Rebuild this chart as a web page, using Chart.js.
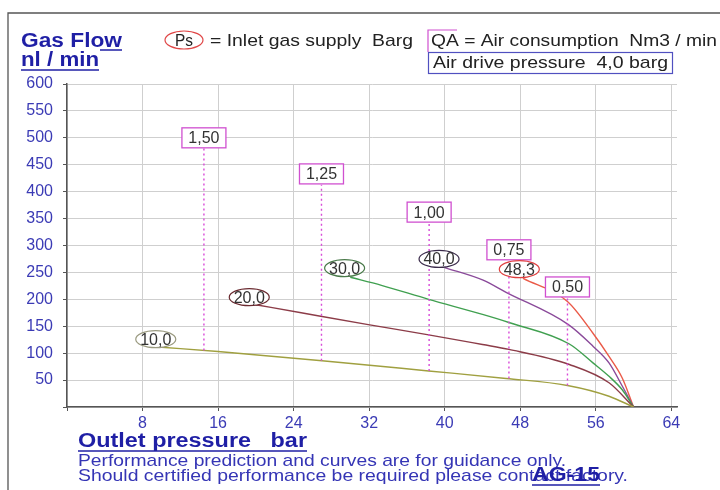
<!DOCTYPE html>
<html>
<head>
<meta charset="utf-8">
<script src="https://cdn.jsdelivr.net/npm/chart.js@4.4.1/dist/chart.umd.min.js"></script>
<style>
body { margin: 0; background: #fff; }
</style>
</head>
<body>
<canvas id="flowChart" width="720" height="490"></canvas>
<script>
// outlet pressure (bar) vs gas flow (nl/min), one curve per inlet pressure Ps
var ps10X = [10, 16, 27, 38.3, 46.5, 53, 57.4, 60];
var ps10Y = [111, 103, 86, 67, 53, 40, 20, 0];
var ps20X = [20, 24.8, 31.9, 38.3, 44, 46.8, 53.2, 57.4, 60];
var ps20Y = [190, 175, 153, 134, 116, 107, 79, 45, 0];
var ps30X = [30, 33.3, 38.3, 44, 46.8, 53.2, 55.7, 57.4, 58.8, 60];
var ps30Y = [241, 226, 200, 172, 157, 117, 82, 57, 32, 0];
var ps40X = [40, 44, 46.5, 53.1, 55.7, 57.4, 58.8, 60];
var ps40Y = [259, 236, 213, 153, 113, 82, 39, 0];
var ps48X = [48.3, 53, 55.7, 57.4, 58.8, 60];
var ps48Y = [239, 196, 137, 94, 54, 0];

// Ps labels (inlet gas supply, barg)
var psLabels = ['10,0', '20,0', '30,0', '40,0', '48,3'];
var psLabelX = [9.4, 19.3, 29.4, 39.4, 47.9];
var psLabelY = [126, 204, 258, 275, 256];

// QA labels (air consumption, Nm3/min) with their dotted markers
var qaLabels = ['1,50', '1,25', '1,00', '0,75', '0,50'];
var qaX = [14.5, 26.95, 38.35, 46.8, 53];
var qaLow = [105, 86, 67, 53, 40];
var qaHigh = [481, 413, 344, 270, 204];
var qaLabelY = [500, 433, 362, 292, 223];

var curveColors = ['#a0a040', '#8c3c48', '#40a050', '#8a4a9a', '#ea5a48'];
var ringColors = ['#9a9a80', '#6a2a30', '#4a7a4a', '#3a2a4a', '#e04040'];

/****************************************************** helpers **************************************/
function toPoints(xs, ys) {
    var pts = [];
    for (var i = 0; i < xs.length; i++) {
        pts.push({ x: xs[i], y: ys[i] });
    }
    return pts;
}

// draw text squeezed/stretched to a given width
function fitText(ctx, txt, x, y, w) {
    var m = ctx.measureText(txt).width;
    ctx.save();
    ctx.translate(x, y);
    ctx.scale(w / m, 1);
    ctx.fillText(txt, 0, 0);
    ctx.restore();
}

function underline(ctx, x1, x2, y, color) {
    ctx.strokeStyle = color;
    ctx.lineWidth = 1.5;
    ctx.beginPath();
    ctx.moveTo(x1, y);
    ctx.lineTo(x2, y);
    ctx.stroke();
}

/****************************************************** plugins **************************************/
var labelsPlugin = {
    id: 'curveLabels',
    afterDatasetsDraw: function (chart) {
        var ctx = chart.ctx;
        var sx = chart.scales.x, sy = chart.scales.y;
        ctx.save();
        ctx.font = '16px "Liberation Sans"';
        ctx.textAlign = 'center';
        ctx.textBaseline = 'middle';
        // QA boxes
        for (var i = 0; i < qaLabels.length; i++) {
            var px = sx.getPixelForValue(qaX[i]);
            var py = sy.getPixelForValue(qaLabelY[i]);
            ctx.fillStyle = '#fff';
            ctx.fillRect(px - 22, py - 10, 44, 20);
            ctx.strokeStyle = '#d050d0';
            ctx.lineWidth = 1.3;
            ctx.strokeRect(px - 22, py - 10, 44, 20);
            ctx.fillStyle = '#333';
            ctx.fillText(qaLabels[i], px, py + 1);
        }
        // Ps ellipses
        for (var j = 0; j < psLabels.length; j++) {
            var ex = sx.getPixelForValue(psLabelX[j]);
            var ey = sy.getPixelForValue(psLabelY[j]);
            ctx.beginPath();
            ctx.ellipse(ex, ey, 20, 8.5, 0, 0, Math.PI * 2);
            ctx.fillStyle = '#fff';
            ctx.fill();
            ctx.strokeStyle = ringColors[j];
            ctx.lineWidth = 1.2;
            ctx.stroke();
            ctx.fillStyle = '#333';
            ctx.fillText(psLabels[j], ex, ey + 1);
        }
        ctx.restore();
    },
    afterDraw: function (chart) {
        var ctx = chart.ctx;
        ctx.save();
        // frame
        ctx.strokeStyle = '#555';
        ctx.lineWidth = 1.3;
        ctx.beginPath();
        ctx.moveTo(8, 490);
        ctx.lineTo(8, 13);
        ctx.lineTo(720, 13);
        ctx.stroke();

        ctx.textBaseline = 'alphabetic';
        ctx.textAlign = 'left';
        // y axis title
        ctx.fillStyle = '#1f1fa5';
        ctx.font = 'bold 20px "Liberation Sans"';
        fitText(ctx, 'Gas Flow', 21, 47, 101);
        fitText(ctx, 'nl / min', 21, 66, 78);
        underline(ctx, 100, 122, 50, '#1f1fa5');
        underline(ctx, 21, 99, 70, '#1f1fa5');

        // legend line
        ctx.beginPath();
        ctx.ellipse(184, 40, 19, 9, 0, 0, Math.PI * 2);
        ctx.strokeStyle = '#e04848';
        ctx.lineWidth = 1.2;
        ctx.stroke();
        ctx.fillStyle = '#222';
        ctx.font = '17px "Liberation Sans"';
        fitText(ctx, 'Ps', 175, 46, 18);
        fitText(ctx, '= Inlet gas supply  Barg', 210, 46, 203);
        fitText(ctx, 'QA = Air consumption  Nm3 / min', 431, 46, 286);
        ctx.strokeStyle = '#d050d0';
        ctx.beginPath();
        ctx.moveTo(428, 52);
        ctx.lineTo(428, 30);
        ctx.lineTo(457, 30);
        ctx.stroke();
        ctx.strokeStyle = '#5050c0';
        ctx.strokeRect(428.5, 52.5, 244, 21);
        fitText(ctx, 'Air drive pressure  4,0 barg', 433, 68, 235);

        // x axis title and notes
        ctx.fillStyle = '#1f1fa5';
        ctx.font = 'bold 20px "Liberation Sans"';
        fitText(ctx, 'Outlet pressure   bar', 78, 447, 229);
        underline(ctx, 78, 307, 451, '#1f1fa5');
        ctx.fillStyle = '#3535b5';
        ctx.font = '17px "Liberation Sans"';
        fitText(ctx, 'Performance prediction and curves are for guidance only.', 78, 466, 488);
        fitText(ctx, 'Should certified performance be required please contact factory.', 78, 481, 550);
        ctx.fillStyle = '#1f1fa5';
        ctx.font = 'bold 20px "Liberation Sans"';
        fitText(ctx, 'AG-15', 532, 481, 68);
        underline(ctx, 532, 600, 485, '#1f1fa5');
        ctx.restore();
    }
};

/****************************************************** chart **************************************/
function flowCanvas() {
    var datasets = [];
    var curvesX = [ps10X, ps20X, ps30X, ps40X, ps48X];
    var curvesY = [ps10Y, ps20Y, ps30Y, ps40Y, ps48Y];
    for (var i = 0; i < qaX.length; i++) {
        datasets.push({
            data: [{ x: qaX[i], y: qaLow[i] }, { x: qaX[i], y: qaHigh[i] }],
            borderColor: '#d84ad8',
            borderWidth: 1.4,
            borderDash: [2, 3],
            pointRadius: 0
        });
    }
    for (var c = 0; c < curvesX.length; c++) {
        datasets.push({
            data: toPoints(curvesX[c], curvesY[c]),
            borderColor: curveColors[c],
            borderWidth: 1.4,
            cubicInterpolationMode: 'monotone',
            pointRadius: 0
        });
    }

    var ctx = document.getElementById('flowChart').getContext('2d');
    var chart = new Chart(ctx, {
        type: 'line',
        data: { datasets: datasets },
        plugins: [labelsPlugin],
        options: {
            responsive: false,
            animation: false,
            layout: { padding: { top: 84, left: 0, right: 43, bottom: 53 } },
            plugins: { legend: { display: false }, tooltip: { enabled: false } },
            scales: {
                x: {
                    type: 'linear',
                    min: 0,
                    max: 64.6,
                    afterFit: function (s) { s.height = 30; },
                    border: { color: '#555', width: 1.5 },
                    grid: { color: '#cfcfcf', tickColor: '#555', tickLength: 4 },
                    ticks: {
                        stepSize: 8,
                        includeBounds: false,
                        padding: 3,
                        color: '#3b3bb5',
                        font: { family: 'Liberation Sans', size: 16 },
                        callback: function (v) { return v === 0 ? '' : v; }
                    }
                },
                y: {
                    min: 0,
                    max: 600,
                    afterFit: function (s) { s.width = 67; },
                    border: { color: '#555', width: 1.5 },
                    grid: { color: '#cfcfcf', tickColor: '#555', tickLength: 4 },
                    ticks: {
                        stepSize: 50,
                        padding: 10,
                        color: '#3b3bb5',
                        font: { family: 'Liberation Sans', size: 16 },
                        callback: function (v) { return v === 0 ? '' : v; }
                    }
                }
            }
        }
    });
}

flowCanvas();
</script>
</body>
</html>
